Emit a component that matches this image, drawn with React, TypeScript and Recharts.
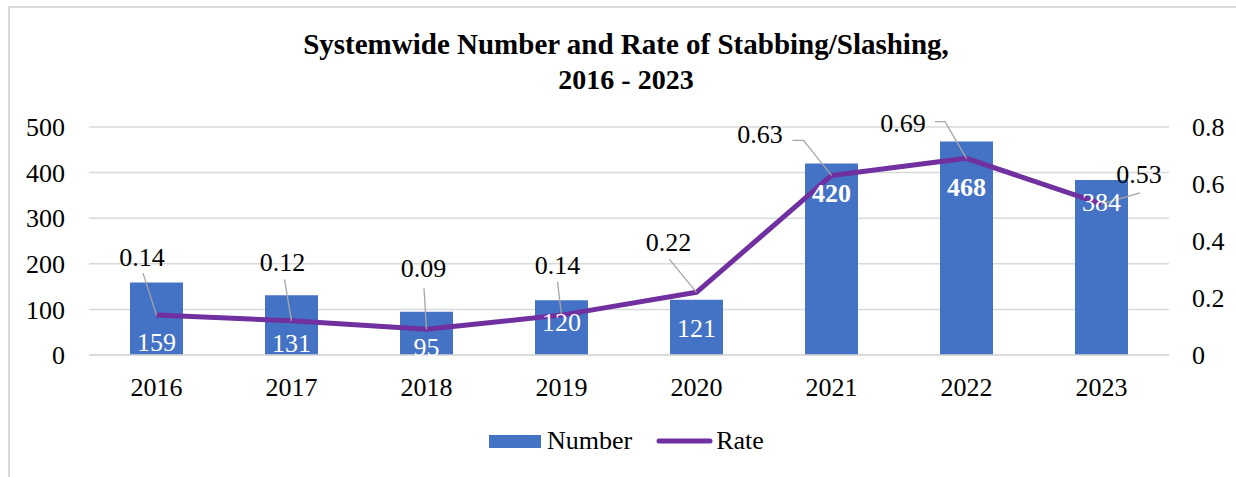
import React from 'react';
import { ComposedChart, Bar, Line, XAxis, YAxis, CartesianGrid, LabelList } from 'recharts';

const years = ['2016', '2017', '2018', '2019', '2020', '2021', '2022', '2023'];
const numbers = [159, 131, 95, 120, 121, 420, 468, 384];
const rates = [0.14, 0.12, 0.09, 0.14, 0.22, 0.63, 0.69, 0.53];
const leftTicks = [0, 100, 200, 300, 400, 500];
const rightTicks = [0, 0.2, 0.4, 0.6, 0.8];

// label layout (pixels), not data
const barLabelLift = [13, 12, 8, 33, 27, 162, 168, 153];
const barLabelBold = [false, false, false, false, false, true, true, false];
const rateLabelLayout = [
  { dx: -14.5, dy: -58, leader: [[-13.5, -42]] },
  { dx: -9, dy: -59, leader: [[-7, -41.5]] },
  { dx: -3, dy: -61, leader: [[-2.5, -41]] },
  { dx: -4, dy: -50, leader: [[-4, -33.5]] },
  { dx: -28, dy: -50.6, leader: [[-27, -33]] },
  { dx: -71.5, dy: -41.5, leader: [[-39, -35], [-28, -35]] },
  { dx: -63.5, dy: -35, leader: [[-31.5, -36.7], [-21.5, -36.7]] },
  { dx: 37.5, dy: -30, leader: [[38.5, -11], [26.5, -7.5]] },
];

const data = years.map((y, i) => ({ year: y, number: numbers[i], rate: rates[i] }));

const FONT = '"Liberation Serif", "Times New Roman", serif';
const FS = 26;
const BLUE = '#4472C4';
const PURPLE = '#7030A0';

const BarLabel = (props: any) => {
  const { x, y, value, index } = props;
  const cy = y - barLabelLift[index];
  return (
    <text
      x={x}
      y={cy + FS * 0.34}
      textAnchor="middle"
      fill="#ffffff"
      fontFamily={FONT}
      fontSize={FS}
      fontWeight={barLabelBold[index] ? 'bold' : 'normal'}
    >
      {value}
    </text>
  );
};

const RateLabel = (props: any) => {
  const { x, y, value, index } = props;
  const l = rateLabelLayout[index];
  const pts = [...l.leader.map((p) => [x + p[0], y + p[1]]), [x, y]];
  return (
    <g>
      <polyline
        points={pts.map((p) => p.join(',')).join(' ')}
        fill="none"
        stroke="#a6a6a6"
        strokeWidth={1.3}
      />
      <text
        x={x + l.dx}
        y={y + l.dy + FS * 0.34}
        textAnchor="middle"
        fill="#000000"
        fontFamily={FONT}
        fontSize={FS}
      >
        {Number(value).toFixed(2)}
      </text>
    </g>
  );
};

export default function App() {
  const tickStyle = { fontFamily: FONT, fontSize: FS, fill: '#000000' };
  return (
    <div style={{ position: 'absolute', left: 0, top: 0, width: 1236, height: 477, background: '#fff', overflow: 'hidden' }}>
      <div
        style={{
          position: 'absolute',
          left: 8,
          top: 6,
          width: 1236,
          height: 477,
          borderLeft: '2px solid #d9d9d9',
          borderTop: '2px solid #d9d9d9',
        }}
      />
      <svg width={1236} height={100} style={{ position: 'absolute', left: 0, top: 0 }}>
        <text x={626} y={54} textAnchor="middle" fontFamily={FONT} fontSize={29} fontWeight="bold" fill="#000">
          Systemwide Number and Rate of Stabbing/Slashing,
        </text>
        <text x={626} y={89} textAnchor="middle" fontFamily={FONT} fontSize={28} fontWeight="bold" fill="#000">
          2016 - 2023
        </text>
      </svg>
      <div style={{ position: 'absolute', left: 0, top: 0 }}>
        <ComposedChart
          width={1236}
          height={477}
          data={data}
          margin={{ top: 127, right: 0, left: 0, bottom: 82 }}
          barSize={53}
        >
          <CartesianGrid yAxisId="left" vertical={false} stroke="#d9d9d9" strokeWidth={1.5} />
          <XAxis
            dataKey="year"
            axisLine={{ stroke: '#d9d9d9', strokeWidth: 1.5 }}
            tickLine={false}
            tickSize={0}
            tickMargin={23}
            height={40}
            tick={tickStyle}
            interval={0}
          />
          <YAxis
            yAxisId="left"
            orientation="left"
            domain={[0, 500]}
            ticks={leftTicks}
            axisLine={false}
            tickLine={false}
            tickSize={0}
            tickMargin={24}
            width={89}
            tick={tickStyle}
            interval={0}
          />
          <YAxis
            yAxisId="right"
            orientation="right"
            domain={[0, 0.8]}
            ticks={rightTicks}
            axisLine={false}
            tickLine={false}
            tickSize={0}
            tickMargin={23}
            width={67}
            tick={tickStyle}
            interval={0}
          />
          <Bar yAxisId="left" dataKey="number" fill={BLUE} isAnimationActive={false} />
          <Line
            yAxisId="right"
            dataKey="rate"
            stroke={PURPLE}
            strokeWidth={5}
            strokeLinejoin="round"
            dot={false}
            activeDot={false}
            isAnimationActive={false}
          >
            <LabelList dataKey="rate" content={<RateLabel />} />
          </Line>
          <Line
            yAxisId="left"
            dataKey={() => 0}
            stroke="none"
            dot={false}
            activeDot={false}
            isAnimationActive={false}
            legendType="none"
          >
            <LabelList dataKey="number" content={<BarLabel />} />
          </Line>
        </ComposedChart>
      </div>
      <div
        style={{
          position: 'absolute',
          left: 489,
          top: 425,
          height: 32,
          display: 'flex',
          alignItems: 'center',
          fontFamily: FONT,
          fontSize: FS,
          color: '#000',
        }}
      >
        <div style={{ width: 52, height: 13, background: BLUE, marginRight: 6 }} />
        <span>Number</span>
        <svg width={57} height={8} style={{ marginLeft: 24, marginRight: 3 }}>
          <line x1={3} y1={4} x2={54} y2={4} stroke={PURPLE} strokeWidth={5} strokeLinecap="round" />
        </svg>
        <span>Rate</span>
      </div>
    </div>
  );
}
